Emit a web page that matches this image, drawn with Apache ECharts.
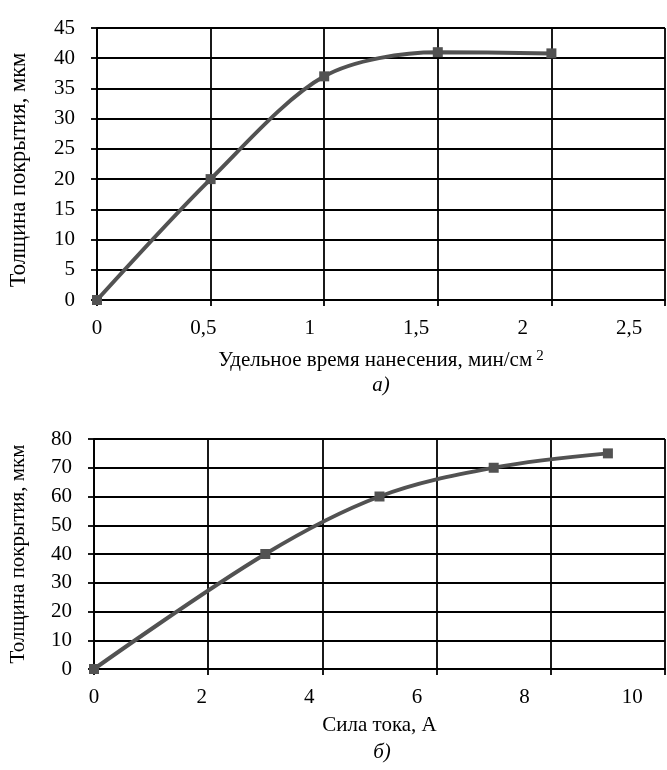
<!DOCTYPE html>
<html>
<head>
<meta charset="utf-8">
<script src="https://cdn.jsdelivr.net/npm/echarts@6/dist/echarts.min.js"></script>
<style>
html,body{margin:0;padding:0;background:#fff;}
#chart{width:667px;height:770px;}
</style>
</head>
<body>
<div id="chart"></div>
<script>
// Chart а): specific application time vs. coating thickness
const timeA = [0, 0.5, 1.0, 1.5, 2.0];
const thickA = [0, 20, 37, 41, 40.8];
const xLabelsA = ['0', '0,5', '1', '1,5', '2', '2,5'];
const yLabelsA = ['0', '5', '10', '15', '20', '25', '30', '35', '40', '45'];

// Chart б): current vs. coating thickness
const currentB = [0, 3, 5, 7, 9];
const thickB = [0, 40, 60, 70, 75];
const xLabelsB = ['0', '2', '4', '6', '8', '10'];
const yLabelsB = ['0', '10', '20', '30', '40', '50', '60', '70', '80'];

const FONT = 'Liberation Serif';
const black = '#000';
const lineGray = '#525252';

const gridLine = {show: true, lineStyle: {color: black, width: 1.8}};
const axisLine = {show: true, lineStyle: {color: black, width: 1.8}};
const tick = {show: true, length: 6, lineStyle: {color: black, width: 1.8}};
const lbl = (arr, margin) => ({
  show: true, margin: margin, fontFamily: FONT, fontSize: 21, color: black,
  showMaxLabel: true,
  formatter: (v, i) => (arr[i] !== undefined ? arr[i] : '')
});

const chart = echarts.init(document.getElementById('chart'), null, {renderer: 'canvas'});

chart.setOption({
  backgroundColor: '#fff',
  animation: false,
  grid: [
    {left: 95, top: 28, width: 570, height: 272},
    {left: 93, top: 439, width: 572, height: 230}
  ],
  xAxis: [
    {
      gridIndex: 0, type: 'value', min: 0, max: 2.5, interval: 0.5, position: 'bottom',
      axisLine: axisLine, axisTick: tick, splitLine: gridLine, axisLabel: {show: false},
      name: 'Удельное время нанесения, мин/см{sup|2}', nameLocation: 'middle', nameGap: 49,
      nameTextStyle: {
        fontFamily: FONT, fontSize: 21, color: black,
        rich: {sup: {fontFamily: FONT, fontSize: 15, color: black, verticalAlign: 'top', padding: [0, 0, 8, 4]}}
      }
    },
    {
      gridIndex: 0, type: 'value', min: 0, max: 2.669, interval: 0.5, position: 'bottom',
      axisLine: {show: false}, axisTick: {show: false}, splitLine: {show: false},
      axisLabel: Object.assign(lbl(xLabelsA, 18), {showMaxLabel: false})
    },
    {
      gridIndex: 1, type: 'value', min: 0, max: 10, interval: 2, position: 'bottom',
      axisLine: axisLine, axisTick: tick, splitLine: gridLine, axisLabel: {show: false},
      name: 'Сила тока, А', nameLocation: 'middle', nameGap: 46,
      nameTextStyle: {fontFamily: FONT, fontSize: 21, color: black}
    },
    {
      gridIndex: 1, type: 'value', min: 0, max: 10.61, interval: 2, position: 'bottom',
      axisLine: {show: false}, axisTick: {show: false}, splitLine: {show: false},
      axisLabel: Object.assign(lbl(xLabelsB, 18), {showMaxLabel: false})
    }
  ],
  yAxis: [
    {
      gridIndex: 0, type: 'value', min: 0, max: 45, interval: 5,
      axisLine: axisLine, axisTick: tick, splitLine: gridLine,
      axisLabel: lbl(yLabelsA, 22),
      name: 'Толщина покрытия, мкм', nameLocation: 'middle', nameGap: 66, nameRotate: 90,
      nameTextStyle: {fontFamily: FONT, fontSize: 22.5, color: black, padding: [0, 12, 0, 0]}
    },
    {
      gridIndex: 1, type: 'value', min: 0, max: 80, interval: 10,
      axisLine: axisLine, axisTick: tick, splitLine: gridLine,
      axisLabel: lbl(yLabelsB, 22),
      name: 'Толщина покрытия, мкм', nameLocation: 'middle', nameGap: 65, nameRotate: 90,
      nameTextStyle: {fontFamily: FONT, fontSize: 21, color: black}
    }
  ],
  graphic: [
    {type: 'text', x: 381, y: 385, style: {text: 'а)', font: 'italic 21px "Liberation Serif"', fill: black, textAlign: 'center', textVerticalAlign: 'middle'}},
    {type: 'text', x: 382, y: 752, style: {text: 'б)', font: 'italic 21px "Liberation Serif"', fill: black, textAlign: 'center', textVerticalAlign: 'middle'}}
  ],
  series: [
    {
      type: 'line', xAxisIndex: 0, yAxisIndex: 0, smooth: 0.3,
      data: timeA.map((x, i) => [x, thickA[i]]),
      symbol: 'rect', symbolSize: 10,
      lineStyle: {color: lineGray, width: 4},
      itemStyle: {color: lineGray},
      z: 5
    },
    {
      type: 'line', xAxisIndex: 2, yAxisIndex: 1, smooth: 0.35,
      data: currentB.map((x, i) => [x, thickB[i]]),
      symbol: 'rect', symbolSize: 10,
      lineStyle: {color: lineGray, width: 4},
      itemStyle: {color: lineGray},
      z: 5
    }
  ]
});
</script>
</body>
</html>
